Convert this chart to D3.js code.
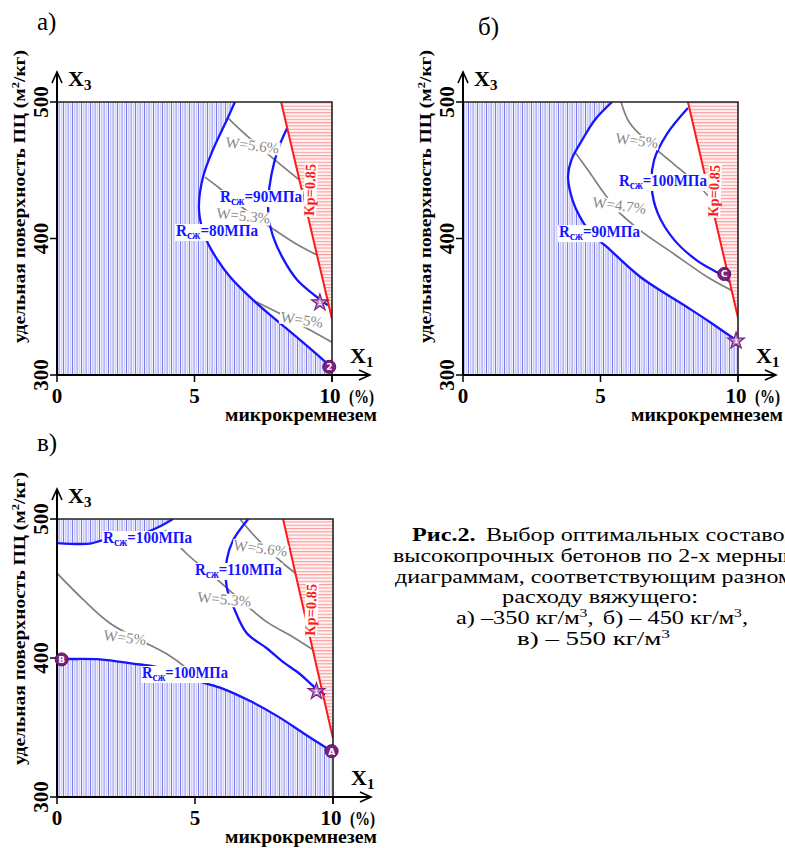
<!DOCTYPE html>
<html>
<head>
<meta charset="utf-8">
<script src="https://cdn.jsdelivr.net/npm/d3@7"></script>
<style>
  body { margin: 0; background: #fff; }
  svg { display: block; font-family: "Liberation Serif", "Times New Roman", serif; }
</style>
</head>
<body>
<svg id="chart" width="785" height="848"></svg>
<script>
// all curves are [x1 (% микрокремнезем), x3 (м2/кг)]

// а) 350 кг/м3
const a_r80 = [[6.47,500],[6.18,487],[5.67,465],[5.31,445],[5.16,423],[5.27,408],[5.5,396],[5.85,384],[6.29,372],[7.02,357],[7.75,344],[8.47,332],[9.2,319.5],[9.85,308]];
const a_r90 = [[8.37,481],[8.05,466],[7.8,447],[7.68,428],[7.7,415],[7.85,402],[8.2,386],[8.72,370],[9.27,360],[9.85,351]];
const a_kp = [[8.15,500],[10,341]];
const a_w56 = [[6.23,488],[6.7,479],[7.26,469],[7.9,458],[8.81,443]];
const a_w53 = [[5.38,445],[5.9,437],[6.53,426],[7.2,416],[7.93,406],[8.7,396],[9.45,388]];
const a_w5 = [[7.2,354],[8.1,345],[8.65,339],[9.2,333],[10,324]];
const a_marks = [{x:9.56, y:353, type:'star', t:'1'}, {x:9.9, y:306, type:'circle', t:'2'}];
const a_labels = [
  {kind:'r', txt:'=90МПа', x:5.93, y:426.7, len:82},
  {kind:'r', txt:'=80МПа', x:4.33, y:401.8, len:82},
  {kind:'w', txt:'W=5.6%', x:6.11, y:467, rot:7},
  {kind:'w', txt:'W=5.3%', x:5.78, y:415, rot:6},
  {kind:'w', txt:'W=5%', x:8.11, y:339, rot:8},
  {kind:'kp', txt:'Кр=0.85', x:9.38, y:435.5}
];

// б) 450 кг/м3
const b_r90 = [[5.42,500],[4.8,487],[4.33,472],[3.95,458],[3.82,446],[3.9,434],[4.1,422],[4.65,404],[5.22,394],[6.44,372],[8.13,350],[9.0,338.5],[9.9,326]];
const b_r100 = [[8.18,495.6],[7.43,477],[6.95,457.5],[6.86,438],[7.08,418.6],[7.68,399],[8.5,384],[9.41,373],[9.71,368]];
const b_kp = [[8.18,500],[10,342]];
const b_w5 = [[5.75,500],[6.05,485],[6.87,468],[7.7,454],[8.55,439],[9.05,428]];
const b_w47 = [[4.08,463],[4.62,448],[5.1,434],[5.59,421],[6.44,406],[7.65,389],[8.87,372],[9.77,362]];
const b_marks = [{x:9.5, y:374, type:'circle', t:'C'}, {x:9.93, y:325, type:'star', t:'1'}];
const b_labels = [
  {kind:'w', txt:'W=5%', x:5.53, y:470, rot:7},
  {kind:'w', txt:'W=4.7%', x:4.69, y:423, rot:7},
  {kind:'r', txt:'=100МПа', x:5.67, y:438.5, len:88},
  {kind:'r', txt:'=90МПа', x:3.49, y:401, len:81},
  {kind:'kp', txt:'Кр=0.85', x:9.31, y:434.8}
];

// в) 550 кг/м3
const c_r100top = [[0,482.7],[1.2,482.3],[1.62,484.5],[2.77,487.3],[3.61,493.5],[4.2,500]];
const c_r100low = [[0,399.5],[0.35,399.3],[1.56,399],[2.75,396],[3.62,393.5],[4.4,389],[5.18,383],[6.0,378],[7.0,369],[8.0,358],[9.0,345],[9.95,333]];
const c_r110 = [[6.93,500],[6.39,485],[6.15,470.5],[6.15,451],[6.39,437],[6.87,418],[7.6,407],[8.2,397],[8.8,388.5],[9.3,379.5],[9.71,373.5]];
const c_kp = [[8.19,500],[10,342]];
const c_w56 = [[6.63,500],[7.1,489],[7.7,477],[8.2,468],[8.64,461]];
const c_w53 = [[3.91,492],[4.7,475],[5.66,459],[6.63,442],[7.6,426],[8.56,415],[9.27,406]];
const c_w5 = [[0,461],[0.95,442],[1.92,425],[3.0,413],[3.97,403],[4.7,392.5],[5.18,383]];
const c_marks = [{x:0.17, y:399, type:'circle', t:'B'}, {x:9.95, y:333, type:'circle', t:'A'}, {x:9.4, y:376, type:'star', t:'1'}];
const c_labels = [
  {kind:'r', txt:'=100МПа', x:1.67, y:482.7, len:89},
  {kind:'r', txt:'=110МПа', x:5.0, y:459.7, len:87},
  {kind:'w', txt:'W=5.6%', x:6.38, y:477.7, rot:7},
  {kind:'w', txt:'W=5.3%', x:5.07, y:440.3, rot:5},
  {kind:'w', txt:'W=5%', x:1.67, y:413, rot:7},
  {kind:'r', txt:'=100МПа', x:3.08, y:385.6, len:86},
  {kind:'kp', txt:'Кр=0.85', x:9.38, y:434.5}
];

const xTicks = [0, 5, 10];
const yTicks = [300, 400, 500];

const svg = d3.select('#chart');
const defs = svg.append('defs');

// vertical blue hatching
const pb = defs.append('pattern').attr('id', 'hatchBlue')
  .attr('patternUnits', 'userSpaceOnUse').attr('width', 9).attr('height', 8);
pb.append('rect').attr('width', 9).attr('height', 8).attr('fill', '#eeeefe');
[[0, 1, '#7b7bf3'], [2.4, 0.8, '#b8b8f9'], [4.6, 1, '#9595f5'], [7, 0.7, '#c8c8fb']].forEach(l => {
  pb.append('rect').attr('x', l[0]).attr('width', l[1]).attr('height', 8).attr('fill', l[2]);
});
// horizontal red hatching
const pr = defs.append('pattern').attr('id', 'hatchRed')
  .attr('patternUnits', 'userSpaceOnUse').attr('width', 8).attr('height', 3.3);
pr.append('rect').attr('width', 8).attr('height', 3.3).attr('fill', '#fff4f4');
pr.append('rect').attr('width', 8).attr('height', 1.1).attr('fill', '#ff9a9a');

function drawPanel(p) {
  const x = d3.scaleLinear().domain([0, 10]).range([p.left, p.left + p.w]);
  const y = d3.scaleLinear().domain([300, 500]).range([p.top + p.h, p.top]);
  const smooth = d3.line().x(d => x(d[0])).y(d => y(d[1])).curve(d3.curveCatmullRom.alpha(0.5));
  const straight = d3.line().x(d => x(d[0])).y(d => y(d[1]));
  const corners = pts => pts.map(c => `L${x(c[0])},${y(c[1])}`).join('');

  defs.append('clipPath').attr('id', 'clip-' + p.id)
    .append('rect').attr('x', p.left).attr('y', p.top).attr('width', p.w).attr('height', p.h);

  const g = svg.append('g');
  const plot = g.append('g').attr('clip-path', `url(#clip-${p.id})`);

  // hatched (rejected) zones
  p.blueZones.forEach(z => {
    plot.append('path').attr('d', smooth(z.curve) + corners(z.tail) + 'Z').attr('fill', 'url(#hatchBlue)');
  });
  plot.append('path').attr('d', straight(p.kp) + corners([[10, 500]]) + 'Z').attr('fill', 'url(#hatchRed)');

  p.grays.forEach(c => plot.append('path').attr('d', smooth(c))
    .attr('fill', 'none').attr('stroke', '#7f7f7f').attr('stroke-width', 1.7));
  p.blues.forEach(c => plot.append('path').attr('d', smooth(c))
    .attr('fill', 'none').attr('stroke', '#1515ff').attr('stroke-width', 2.3));
  plot.append('path').attr('d', straight(p.kp))
    .attr('fill', 'none').attr('stroke', '#ff1a1a').attr('stroke-width', 2);

  // curve labels, each on a small white patch
  p.labels.forEach(l => {
    const lg = g.append('g');
    let t;
    if (l.kind === 'r') {
      lg.attr('transform', `translate(${x(l.x)},${y(l.y)})`);
      t = lg.append('text').attr('fill', '#1515ff').attr('font-weight', 'bold').attr('font-size', 16)
        .attr('textLength', l.len).attr('lengthAdjust', 'spacingAndGlyphs');
      t.append('tspan').text('R');
      t.append('tspan').attr('font-size', 12).attr('dy', 3).text('сж');
      t.append('tspan').attr('dy', -3).text(l.txt);
    } else if (l.kind === 'w') {
      lg.attr('transform', `translate(${x(l.x)},${y(l.y)}) rotate(${l.rot})`);
      t = lg.append('text').attr('fill', '#888').attr('font-size', 15).text(l.txt);
    } else {
      lg.attr('transform', `translate(${x(l.x)},${y(l.y)}) rotate(-88)`);
      t = lg.append('text').attr('fill', '#ff1a1a').attr('font-weight', 'bold').attr('font-size', 15)
        .attr('text-anchor', 'middle').attr('textLength', 52).attr('lengthAdjust', 'spacingAndGlyphs')
        .text(l.txt);
    }
    const bb = t.node().getBBox();
    lg.insert('rect', 'text').attr('x', bb.x - 1).attr('y', bb.y + 2)
      .attr('width', bb.width + 2).attr('height', bb.height - 3).attr('fill', '#fff');
  });

  // axes and frame
  const x0 = x(0), x10 = x(10), yb = y(300), yt = y(500);
  g.append('path').attr('d', `M${x0},${yt}H${x10}V${yb + 7}`)
    .attr('fill', 'none').attr('stroke', '#222').attr('stroke-width', 1.6);
  g.append('path').attr('d', `M${x0},${yb}V${yt - 30}M${x0},${yb}H${x10 + 38}`)
    .attr('fill', 'none').attr('stroke', '#000').attr('stroke-width', 2);
  g.append('path').attr('d', `M${x0 - 5},${yt - 19}L${x0},${yt - 30}L${x0 + 5},${yt - 19}`)
    .attr('fill', 'none').attr('stroke', '#000').attr('stroke-width', 1.6);
  g.append('path').attr('d', `M${x10 + 27},${yb - 5}L${x10 + 38},${yb}L${x10 + 27},${yb + 5}`)
    .attr('fill', 'none').attr('stroke', '#000').attr('stroke-width', 1.6);

  yTicks.forEach(v => {
    g.append('line').attr('x1', x0 - 7).attr('x2', x0).attr('y1', y(v)).attr('y2', y(v))
      .attr('stroke', '#000').attr('stroke-width', 1.5);
    g.append('text').attr('transform', `translate(${x0 - 9},${y(v)}) rotate(-90)`)
      .attr('text-anchor', 'middle').attr('font-weight', 'bold').attr('font-size', 21).text(v);
  });
  xTicks.forEach(v => {
    g.append('line').attr('x1', x(v)).attr('x2', x(v)).attr('y1', yb).attr('y2', yb + 7)
      .attr('stroke', '#000').attr('stroke-width', 1.5);
    g.append('text').attr('x', x(v) - (v === 10 ? 2 : 0)).attr('y', yb + 28)
      .attr('text-anchor', 'middle').attr('font-weight', 'bold').attr('font-size', 21).text(v);
  });
  g.append('text').attr('x', x10 + 17).attr('y', yb + 28).attr('font-weight', 'bold').attr('font-size', 19)
    .attr('textLength', 25).attr('lengthAdjust', 'spacingAndGlyphs').text('(%)');

  g.append('text').attr('x', x0 + 168).attr('y', yb + 46).attr('font-weight', 'bold').attr('font-size', 18)
    .attr('textLength', 152).attr('lengthAdjust', 'spacingAndGlyphs').text('микрокремнезем');

  const yt1 = g.append('text').attr('transform', `translate(${x0 - 32},${yb - 32}) rotate(-90)`)
    .attr('font-weight', 'bold').attr('font-size', 17)
    .attr('textLength', 293).attr('lengthAdjust', 'spacingAndGlyphs');
  yt1.append('tspan').text('удельная поверхность ПЦ (м');
  yt1.append('tspan').attr('font-size', 11).attr('dy', -6).text('2');
  yt1.append('tspan').attr('dy', 6).text('/кг)');

  const ax3 = g.append('text').attr('x', x0 + 11).attr('y', yt - 16).attr('font-weight', 'bold').attr('font-size', 22);
  ax3.append('tspan').text('X');
  ax3.append('tspan').attr('font-size', 15).attr('dy', 4).text('3');
  const ax1 = g.append('text').attr('x', x10 + 18).attr('y', yb - 12).attr('font-weight', 'bold').attr('font-size', 22);
  ax1.append('tspan').text('X');
  ax1.append('tspan').attr('font-size', 15).attr('dy', 4).text('1');

  g.append('text').attr('x', p.titleX).attr('y', p.titleY).attr('font-size', 25).text(p.title);

  // optimum points
  p.marks.forEach(m => {
    const mg = g.append('g').attr('transform', `translate(${x(m.x)},${y(m.y)})`);
    if (m.type === 'circle') {
      mg.append('circle').attr('r', 6.5).attr('fill', '#7b1f7b').attr('stroke', '#5a0e5a');
      mg.append('text').attr('text-anchor', 'middle').attr('dy', 3.5).attr('fill', '#fff')
        .attr('font-family', 'DejaVu Sans').attr('font-weight', 'bold').attr('font-size', 9).text(m.t);
    } else {
      mg.append('path').attr('d', d3.symbol(d3.symbolStar, 85)())
        .attr('fill', '#b98ad0').attr('stroke', '#7b1f7b').attr('stroke-width', 1.2);
      mg.append('text').attr('text-anchor', 'middle').attr('dy', 2.5).attr('fill', '#fff')
        .attr('font-family', 'DejaVu Sans').attr('font-weight', 'bold').attr('font-size', 6).text(m.t);
    }
  });
}

drawPanel({
  id: 'a', left: 57, top: 102, w: 275, h: 273, title: 'а)', titleX: 37, titleY: 30,
  blueZones: [{curve: a_r80, tail: [[10, 300], [0, 300], [0, 500]]}],
  kp: a_kp, grays: [a_w56, a_w53, a_w5], blues: [a_r80, a_r90], labels: a_labels, marks: a_marks
});
drawPanel({
  id: 'b', left: 463, top: 102, w: 275, h: 273, title: 'б)', titleX: 478, titleY: 35,
  blueZones: [{curve: b_r90, tail: [[10, 326], [10, 300], [0, 300], [0, 500]]}],
  kp: b_kp, grays: [b_w5, b_w47], blues: [b_r90, b_r100], labels: b_labels, marks: b_marks
});
drawPanel({
  id: 'c', left: 57, top: 519, w: 276, h: 278, title: 'в)', titleX: 37, titleY: 451,
  blueZones: [
    {curve: c_r100top, tail: [[0, 500]]},
    {curve: c_r100low, tail: [[10, 333], [10, 300], [0, 300]]}
  ],
  kp: c_kp, grays: [c_w56, c_w53, c_w5], blues: [c_r100top, c_r100low, c_r110], labels: c_labels, marks: c_marks
});

// caption (the first three lines run past the right edge, as in the source)
const cap = svg.append('g').attr('font-size', 18.5);
const capLine = (x, y, len) => cap.append('text').attr('x', x).attr('y', y)
  .attr('textLength', len).attr('lengthAdjust', 'spacingAndGlyphs');
const l1 = capLine(412, 541, 384);
l1.append('tspan').attr('font-weight', 'bold').text('Рис.2.');
l1.append('tspan').attr('dx', 8).text('Выбор оптимальных составов');
capLine(393, 562, 405).text('высокопрочных бетонов по 2-х мерным');
capLine(395, 583, 410).text('диаграммам, соответствующим разному');
capLine(502, 603, 196).text('расходу вяжущего:');
const l5 = capLine(456, 624, 292);
l5.append('tspan').text('а) –350 кг/м');
l5.append('tspan').attr('font-size', 12).attr('dy', -7).text('3');
l5.append('tspan').attr('dy', 7).text(',');
l5.append('tspan').attr('dx', 7).text('б) – 450 кг/м');
l5.append('tspan').attr('font-size', 12).attr('dy', -7).text('3');
l5.append('tspan').attr('dy', 7).text(',');
const l6 = capLine(517, 645, 153);
l6.append('tspan').text('в) – 550 кг/м');
l6.append('tspan').attr('font-size', 12).attr('dy', -7).text('3');
</script>
</body>
</html>
